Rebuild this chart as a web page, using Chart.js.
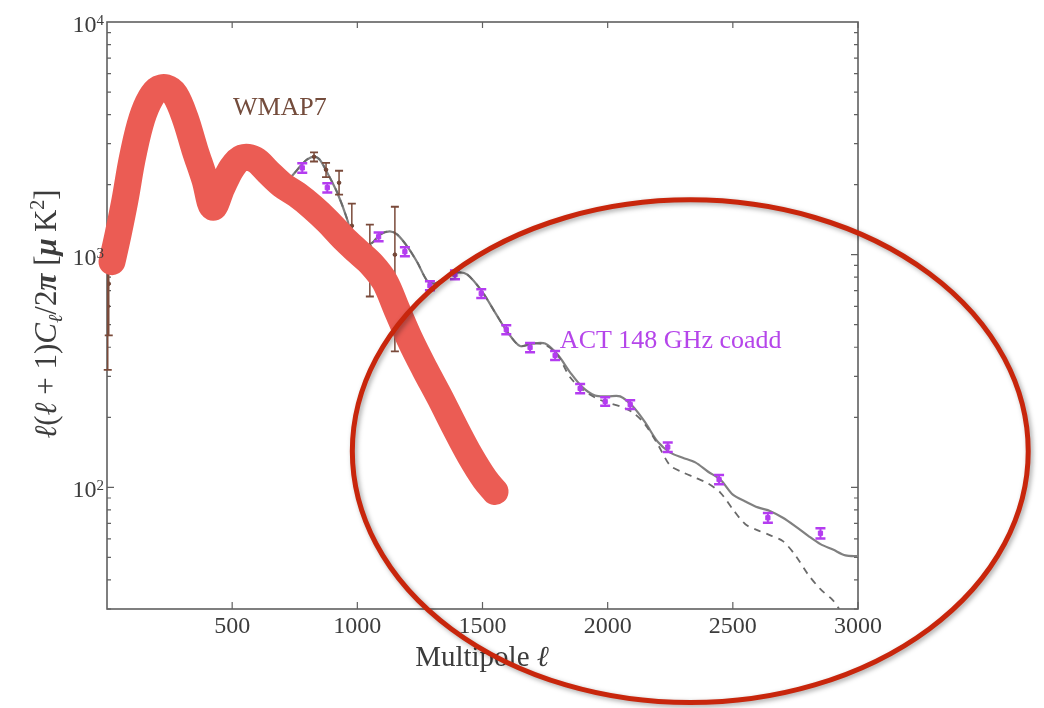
<!DOCTYPE html>
<html>
<head>
<meta charset="utf-8">
<script src="https://cdn.jsdelivr.net/npm/chart.js@4.4.1/dist/chart.umd.min.js"></script>
<style>
  html, body { margin: 0; padding: 0; background: #fff; }
  #wrap { width: 1044px; height: 708px; }
</style>
</head>
<body>
<div id="wrap"><canvas id="spectrum"></canvas></div>
<script>
// theory spectrum (solid) and the variant without secondaries (dashed)
const solidL = [715, 750, 775, 800, 827, 850, 880, 920, 960, 985, 1020, 1060, 1090, 1130, 1160, 1200, 1240, 1280, 1310, 1350,
  1400, 1440, 1500, 1550, 1600, 1650, 1700, 1750, 1800, 1850, 1900, 1950, 2000, 2050, 2100, 2150, 2200, 2250, 2300, 2350,
  2400, 2450, 2500, 2550, 2600, 2650, 2700, 2750, 2800, 2850, 2900, 2950, 3000];
const solidCl = [2040, 2250, 2420, 2570, 2640, 2560, 2250, 1846, 1413, 1126, 1072, 1126, 1219, 1259, 1219, 1082, 925, 770, 752, 795,
  838, 820, 690, 565, 465, 405, 415, 415, 372, 312, 269, 248, 246, 246, 223, 190, 157, 141, 134, 128,
  117, 108, 93, 87, 82, 79, 74, 68, 62, 57, 54, 51, 50.6];

const dashL = [715, 750, 775, 800, 827, 850, 880, 920, 960, 985, 1020, 1060, 1090, 1130, 1160, 1200, 1240, 1280, 1310, 1350,
  1400, 1440, 1500, 1550, 1600, 1650, 1700, 1750, 1800, 1850, 1900, 1950, 2000, 2050, 2100, 2150, 2200, 2250, 2300, 2350,
  2400, 2450, 2500, 2550, 2600, 2650, 2700, 2750, 2800, 2850, 2900, 2925];
const dashCl = [2040, 2250, 2420, 2570, 2640, 2560, 2250, 1846, 1413, 1126, 1072, 1126, 1219, 1259, 1219, 1082, 925, 770, 752, 795,
  838, 820, 690, 565, 465, 405, 415, 410, 370, 297, 263, 243, 231, 223, 210, 186, 153, 124, 116, 110,
  104, 95, 80.5, 69.4, 65.3, 62.2, 58.7, 51, 42.3, 36.5, 32.7, 30];

// ACT 148 GHz band powers
const actL = [780, 880, 985, 1085, 1190, 1290, 1390, 1495, 1595, 1690, 1790, 1890, 1990, 2090, 2240, 2445, 2640, 2850];
const actCl = [2360, 1940, 1126, 1194, 1030, 736, 820, 681, 476, 399, 369, 266, 234, 227, 149, 108, 74, 63.5];
const actErr = [110, 90, 50, 52, 45, 32, 36, 30, 21, 18, 16, 12, 10, 10, 7, 5, 3.6, 3.2];

// WMAP7 points visible outside the scribble
const wmapL = [3, 7, 720, 827, 875, 927, 978, 1050, 1150];
const wmapCl = [600, 750, 2040, 2634, 2317, 2037, 1331, 1082, 1000];
const wmapLo = [320, 450, 1920, 2515, 2156, 1811, 1082, 661, 384];
const wmapHi = [1100, 1000, 2160, 2750, 2481, 2295, 1656, 1346, 1607];

// hand drawn red band over the WMAP7 data
const bandL = [20, 44, 72, 100, 132, 164, 200, 236, 272, 312, 351, 391, 423, 459, 499, 539, 591, 643, 699, 759,
  819, 883, 943, 1002, 1058, 1110, 1158, 1210, 1270, 1330, 1390, 1450, 1510, 1550];
const bandCl = [933, 1219, 1722, 2560, 3613, 4488, 5106, 5210, 4864, 3871, 2824, 2098, 1600, 1941, 2361, 2606, 2560, 2270, 1997, 1811,
  1607, 1386, 1183, 1030, 906, 765, 581, 432, 321, 243, 181, 137, 108, 96];

const xTicks = [500, 1000, 1500, 2000, 2500, 3000];
const yMajor = [100, 1000, 10000];

const SERIF = '"Liberation Serif", "DejaVu Serif", serif';

const pts = (xs, ys) => xs.map((x, i) => ({ x: x, y: ys[i] }));

// box with inward ticks, like the original plot
const framePlugin = {
    id: 'frame',
    beforeDatasetsDraw(chart) {
        const { ctx, chartArea: a } = chart;
        const x = chart.scales.x, y = chart.scales.y;
        ctx.save();
        ctx.strokeStyle = '#606060';
        ctx.lineWidth = 1.6;
        ctx.strokeRect(a.left, a.top, a.right - a.left, a.bottom - a.top);
        ctx.lineWidth = 1.2;
        ctx.beginPath();
        xTicks.forEach(v => {
            const px = x.getPixelForValue(v);
            ctx.moveTo(px, a.bottom); ctx.lineTo(px, a.bottom - 7);
            ctx.moveTo(px, a.top); ctx.lineTo(px, a.top + 6);
        });
        for (let dec = 10; dec < 10000; dec *= 10) {
            for (let m = 1; m < 10; m++) {
                const v = dec * m;
                if (v < y.min || v > y.max) continue;
                const py = y.getPixelForValue(v);
                const len = m === 1 ? 7 : 4;
                ctx.moveTo(a.left, py); ctx.lineTo(a.left + len, py);
                ctx.moveTo(a.right, py); ctx.lineTo(a.right - len, py);
            }
        }
        ctx.stroke();
        ctx.restore();
    }
};

// error bars drawn right after their own dataset
const errorBars = {
    id: 'errorBars',
    afterDatasetDraw(chart, args) {
        const ds = chart.data.datasets[args.index];
        if (!ds.errLo) return;
        const { ctx } = chart;
        const x = chart.scales.x, y = chart.scales.y;
        ctx.save();
        ctx.strokeStyle = ds.barColor;
        ds.data.forEach((p, i) => {
            const px = x.getPixelForValue(p.x);
            const top = y.getPixelForValue(ds.errHi[i]);
            const bot = y.getPixelForValue(ds.errLo[i]);
            ctx.lineWidth = ds.barWidth;
            ctx.beginPath();
            ctx.moveTo(px, top); ctx.lineTo(px, bot);
            ctx.stroke();
            ctx.lineWidth = ds.capWidth;
            ctx.beginPath();
            ctx.moveTo(px - ds.capHalf, top); ctx.lineTo(px + ds.capHalf, top);
            ctx.moveTo(px - ds.capHalf, bot); ctx.lineTo(px + ds.capHalf, bot);
            ctx.stroke();
        });
        ctx.restore();
    }
};

function drawRich(ctx, segs, x, y) {
    let total = 0;
    segs.forEach(s => { ctx.font = s.f; total += ctx.measureText(s.t).width; });
    let cx = x - total / 2;
    segs.forEach(s => {
        ctx.font = s.f;
        ctx.fillText(s.t, cx, y + (s.dy || 0));
        cx += ctx.measureText(s.t).width;
    });
}

const textPlugin = {
    id: 'texts',
    afterDatasetsDraw(chart) {
        const { ctx } = chart;
        const x = chart.scales.x, y = chart.scales.y;
        ctx.save();
        ctx.textBaseline = 'alphabetic';
        ctx.textAlign = 'left';
        ctx.font = '26px ' + SERIF;
        ctx.fillStyle = '#744c3c';
        ctx.fillText('WMAP7', x.getPixelForValue(503), y.getPixelForValue(3990));
        ctx.fillStyle = '#b545ea';
        ctx.fillText('ACT 148 GHz coadd', x.getPixelForValue(1809), y.getPixelForValue(399));
        ctx.restore();
    },
    afterDraw(chart) {
        const { ctx, chartArea: a } = chart;
        const x = chart.scales.x, y = chart.scales.y;
        ctx.save();
        ctx.fillStyle = '#3c3c3c';
        ctx.textBaseline = 'alphabetic';
        ctx.textAlign = 'left';
        const exps = { 100: '2', 1000: '3', 10000: '4' };
        yMajor.forEach(v => {
            const py = y.getPixelForValue(v);
            ctx.font = '15px ' + SERIF;
            const we = ctx.measureText(exps[v]).width;
            ctx.fillText(exps[v], a.left - 3 - we, py + 3);
            ctx.font = '24px ' + SERIF;
            const wb = ctx.measureText('10').width;
            ctx.fillText('10', a.left - 3 - we - wb, py + 10);
        });

        // x title
        drawRich(ctx, [
            { t: 'Multipole ', f: '29px ' + SERIF },
            { t: 'ℓ', f: 'italic 29px ' + SERIF }
        ], 482, 666);

        // y title, rotated
        ctx.save();
        ctx.translate(56, 314);
        ctx.rotate(-Math.PI / 2);
        const n = '31px ' + SERIF, it = 'italic 31px ' + SERIF;
        drawRich(ctx, [
            { t: 'ℓ', f: it }, { t: '(', f: n }, { t: 'ℓ', f: it }, { t: ' + 1)', f: n },
            { t: 'C', f: it }, { t: 'ℓ', f: 'italic 20px ' + SERIF, dy: 6 },
            { t: '/2', f: n }, { t: 'π', f: 'bold italic 31px ' + SERIF },
            { t: ' [', f: n }, { t: 'μ', f: 'bold italic 31px ' + SERIF }, { t: '\u2009K', f: n },
            { t: '2', f: '20px ' + SERIF, dy: -12 }, { t: ']', f: n }
        ], 0, 0);
        ctx.restore();

        // red annotation ellipse, placed in data units
        const cx = x.getPixelForValue(2330);
        const cy = y.getPixelForValue(143);
        const rx = x.getPixelForValue(2330 + 1350) - cx;
        const ry = cy - y.getPixelForValue(1720);
        ctx.shadowColor = 'rgba(0,0,0,0.35)';
        ctx.shadowBlur = 5;
        ctx.shadowOffsetX = 2;
        ctx.shadowOffsetY = 2;
        ctx.strokeStyle = '#c8260c';
        ctx.lineWidth = 5;
        ctx.beginPath();
        ctx.ellipse(cx, cy, rx, ry, 0, 0, Math.PI * 2);
        ctx.stroke();
        ctx.restore();
    }
};

new Chart(document.getElementById('spectrum'), {
    type: 'line',
    data: {
        datasets: [
            {
                label: 'WMAP7 band',
                data: pts(bandL, bandCl),
                borderColor: '#eb5c54',
                borderWidth: 27,
                borderCapStyle: 'round',
                borderJoinStyle: 'round',
                tension: 0.35,
                pointRadius: 0,
                clip: false,
                order: 0
            },
            {
                label: 'ACT 148 GHz coadd',
                type: 'scatter',
                data: pts(actL, actCl),
                errLo: actCl.map((v, i) => v - actErr[i]),
                errHi: actCl.map((v, i) => v + actErr[i]),
                barColor: '#b43cf0',
                barWidth: 2,
                capWidth: 2.5,
                capHalf: 5,
                pointStyle: 'rect',
                pointRadius: 3,
                backgroundColor: '#b43cf0',
                borderColor: '#b43cf0',
                order: 1
            },
            {
                label: 'WMAP7',
                type: 'scatter',
                data: pts(wmapL, wmapCl),
                errLo: wmapLo,
                errHi: wmapHi,
                barColor: '#7a4a3a',
                barWidth: 1.5,
                capWidth: 1.8,
                capHalf: 4,
                pointStyle: 'circle',
                pointRadius: 1.8,
                backgroundColor: '#6b3f30',
                borderColor: '#6b3f30',
                order: 2
            },
            {
                label: 'no secondaries',
                data: pts(dashL, dashCl),
                borderColor: '#6a6a6a',
                borderWidth: 1.8,
                borderDash: [7, 6],
                tension: 0.3,
                pointRadius: 0,
                order: 3
            },
            {
                label: 'theory',
                data: pts(solidL, solidCl),
                borderColor: '#808080',
                borderWidth: 2.2,
                tension: 0.3,
                pointRadius: 0,
                order: 4
            }
        ]
    },
    options: {
        responsive: true,
        maintainAspectRatio: false,
        animation: false,
        layout: { padding: { top: 22, right: 186, left: 0, bottom: 0 } },
        plugins: { legend: { display: false }, tooltip: { enabled: false } },
        scales: {
            x: {
                type: 'linear',
                min: 0,
                max: 3000,
                afterBuildTicks: s => { s.ticks = xTicks.map(v => ({ value: v })); },
                afterFit: s => { s.height = 99; },
                grid: { display: false, drawTicks: false },
                border: { display: false },
                ticks: {
                    font: { family: SERIF, size: 24 },
                    color: '#3c3c3c',
                    padding: 3,
                    maxRotation: 0,
                    autoSkip: false,
                    callback: v => String(v)
                }
            },
            y: {
                type: 'logarithmic',
                min: 30,
                max: 10000,
                afterFit: s => { s.width = 107; },
                grid: { display: false, drawTicks: false },
                border: { display: false },
                ticks: { display: false }
            }
        }
    },
    plugins: [framePlugin, errorBars, textPlugin]
});
</script>
</body>
</html>
